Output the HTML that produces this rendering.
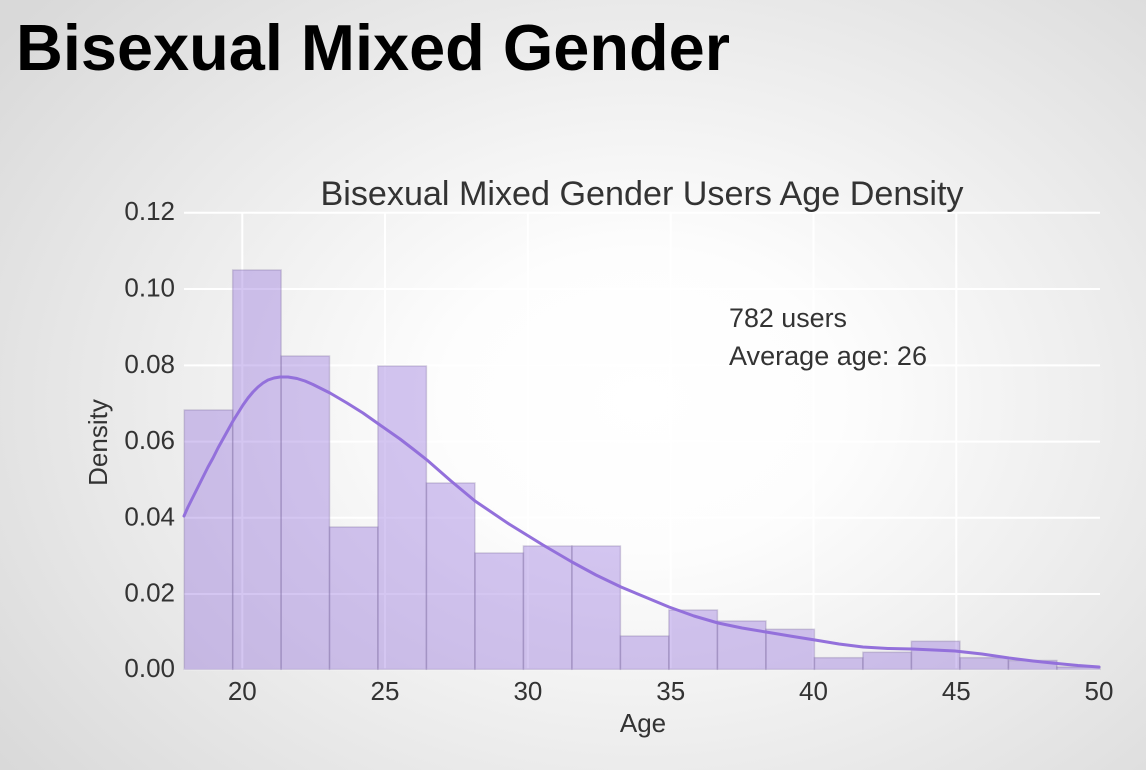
<!DOCTYPE html>
<html>
<head>
<meta charset="utf-8">
<style>
  html, body { margin:0; padding:0; }
  body {
    width:1146px; height:770px; overflow:hidden;
    background: radial-gradient(ellipse 70% 78% at 56% 52%, #ffffff 0%, #fdfdfd 25%, #d9d9d9 100%);
    font-family: "Liberation Sans", Arial, sans-serif;
  }
  svg { position:absolute; left:0; top:0; }
</style>
</head>
<body>
<svg width="1146" height="770" viewBox="0 0 1146 770" xmlns="http://www.w3.org/2000/svg">
  <!-- Slide title -->
  <text x="16" y="70" font-family="Liberation Sans, Arial, sans-serif" font-weight="bold" font-size="65" fill="#000" textLength="714" lengthAdjust="spacingAndGlyphs">Bisexual Mixed Gender</text>

  <!-- Grid lines -->
  <g stroke="#ffffff" stroke-width="2">
    <line x1="184" y1="212.7" x2="1100" y2="212.7"/>
    <line x1="184" y1="289" x2="1100" y2="289"/>
    <line x1="184" y1="365.4" x2="1100" y2="365.4"/>
    <line x1="184" y1="441.6" x2="1100" y2="441.6"/>
    <line x1="184" y1="517.8" x2="1100" y2="517.8"/>
    <line x1="184" y1="594" x2="1100" y2="594"/>
    <line x1="184" y1="669.3" x2="1100" y2="669.3"/>
    <line x1="242.3" y1="212.7" x2="242.3" y2="669.3"/>
    <line x1="385" y1="212.7" x2="385" y2="669.3"/>
    <line x1="527.9" y1="212.7" x2="527.9" y2="669.3"/>
    <line x1="670.7" y1="212.7" x2="670.7" y2="669.3"/>
    <line x1="813.5" y1="212.7" x2="813.5" y2="669.3"/>
    <line x1="956.3" y1="212.7" x2="956.3" y2="669.3"/>
  </g>

  <!-- Histogram bars -->
  <g fill="#9370DB" fill-opacity="0.4" stroke="#7a6a9a" stroke-opacity="0.3" stroke-width="1.5">
    <rect x="184.3" y="410" width="48.4" height="259.3"/>
    <rect x="232.7" y="270" width="48.4" height="399.3"/>
    <rect x="281.1" y="356" width="48.4" height="313.3"/>
    <rect x="329.5" y="527" width="48.4" height="142.3"/>
    <rect x="377.9" y="366" width="48.5" height="303.3"/>
    <rect x="426.4" y="483" width="48.5" height="186.3"/>
    <rect x="474.9" y="553" width="48.5" height="116.3"/>
    <rect x="523.4" y="546" width="48.5" height="123.3"/>
    <rect x="571.9" y="546" width="48.5" height="123.3"/>
    <rect x="620.4" y="636" width="48.5" height="33.3"/>
    <rect x="668.9" y="610" width="48.5" height="59.3"/>
    <rect x="717.4" y="621" width="48.5" height="48.3"/>
    <rect x="765.9" y="629.3" width="48.5" height="40"/>
    <rect x="814.4" y="657.7" width="48.5" height="11.6"/>
    <rect x="862.9" y="652.3" width="48.5" height="17"/>
    <rect x="911.4" y="641.3" width="48.5" height="28"/>
    <rect x="959.9" y="657.7" width="48.5" height="11.6"/>
    <rect x="1008.4" y="660.5" width="48.5" height="8.8"/>
    <rect x="1056.9" y="667" width="43" height="2.3"/>
  </g>

  <!-- KDE curve -->
  <polyline fill="none" stroke="#9370DB" stroke-width="3" stroke-linejoin="round" stroke-linecap="round"
    points="184,516 188,507 192,499 196,491 200,483 204,475 208,467 213,458 218,448 223,439 228,430 233,421 238,413 243,405 248,398 253,392 258,387 263,383 268,380 274,378 280,377 288,377 297,378.5 305,381 313,384.5 322,389 330,393 347,403 363,413 380,425 400,439 413,449 427,460 451,481 475,501 509,524 543,545 572,562 596,575 621,587 645,597 669,607 694,616 718,623 742,628 766,632 790,636 815,640 839,644 863,647 888,648.5 912,649 934,650 955,651 982,654 1009,658 1033,661 1057,663.5 1078,665.5 1099,667"/>

  <!-- Y tick labels -->
  <g font-family="Liberation Sans, Arial, sans-serif" font-size="26" fill="#333" text-anchor="end">
    <text x="175" y="220.2">0.12</text>
    <text x="175" y="296.5">0.10</text>
    <text x="175" y="372.9">0.08</text>
    <text x="175" y="449.1">0.06</text>
    <text x="175" y="525.3">0.04</text>
    <text x="175" y="601.5">0.02</text>
    <text x="175" y="676.8">0.00</text>
  </g>

  <!-- X tick labels -->
  <g font-family="Liberation Sans, Arial, sans-serif" font-size="26" fill="#333" text-anchor="middle">
    <text x="242.3" y="700">20</text>
    <text x="385" y="700">25</text>
    <text x="527.9" y="700">30</text>
    <text x="670.7" y="700">35</text>
    <text x="813.5" y="700">40</text>
    <text x="956.3" y="700">45</text>
    <text x="1099" y="700">50</text>
  </g>

  <!-- Axis labels -->
  <text x="643" y="732" font-family="Liberation Sans, Arial, sans-serif" font-size="26" fill="#333" text-anchor="middle">Age</text>
  <text transform="translate(107,442.5) rotate(-90)" x="0" y="0" font-family="Liberation Sans, Arial, sans-serif" font-size="26" fill="#333" text-anchor="middle">Density</text>

  <!-- Chart title -->
  <text x="642" y="205" font-family="Liberation Sans, Arial, sans-serif" font-size="34" fill="#333" text-anchor="middle" textLength="643" lengthAdjust="spacingAndGlyphs">Bisexual Mixed Gender Users Age Density</text>

  <!-- Annotation -->
  <g font-family="Liberation Sans, Arial, sans-serif" font-size="27" fill="#333">
    <text x="729" y="327" textLength="118" lengthAdjust="spacingAndGlyphs">782 users</text>
    <text x="729" y="365" textLength="198" lengthAdjust="spacingAndGlyphs">Average age: 26</text>
  </g>
</svg>
</body>
</html>
